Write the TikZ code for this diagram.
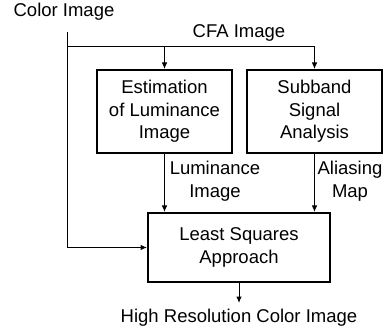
\documentclass[tikz,border=0pt]{standalone}
\usepackage{fontspec}
\setmainfont{Liberation Sans}
\usetikzlibrary{arrows.meta}
\begin{document}
\begin{tikzpicture}[x=1pt,y=-1pt,
  lbl/.style={inner sep=0pt,align=center,font=\fontsize{18.5}{22.5}\selectfont},
  blk/.style={draw,line width=2pt,inner sep=0pt,align=center,font=\fontsize{18.5}{22.5}\selectfont},
  conn/.style={line width=1pt},
  arr/.style={conn,-{Latex[length=6.5pt,width=5.5pt]}}]
\useasboundingbox (0,0) rectangle (387,336);
\node[lbl] (color) at (64,12) {Color Image};
\node[lbl] (cfa) at (239,33) {CFA Image};
\node[blk,minimum width=135pt,minimum height=83pt] (est) at (164.5,111.5) {Estimation\\of Luminance\\Image};
\node[blk,minimum width=135pt,minimum height=83pt] (sub) at (314.5,111.5) {Subband\\Signal\\Analysis};
\node[blk,minimum width=182pt,minimum height=69pt] (ls) at (239,247.5) {Least Squares\\Approach};
\node[lbl] (lum) at (215,181) {Luminance\\Image};
\node[lbl] (ali) at (350,181) {Aliasing\\Map};
\node[lbl] (out) at (239,318) {High Resolution Color Image};
\coordinate (cstart) at (67,32);
\coordinate (split) at (67,47);
\coordinate (outend) at (239,303);
\draw[arr] (cstart) |- (ls.west);
\draw[arr] (split) -| (sub.north);
\draw[arr] (est.north |- split) -- (est.north);
\draw[arr] (est.south) -- (est.south |- ls.north);
\draw[arr] (sub.south) -- (sub.south |- ls.north);
\draw[arr] (ls.south) -- (outend);
\end{tikzpicture}
\end{document}
